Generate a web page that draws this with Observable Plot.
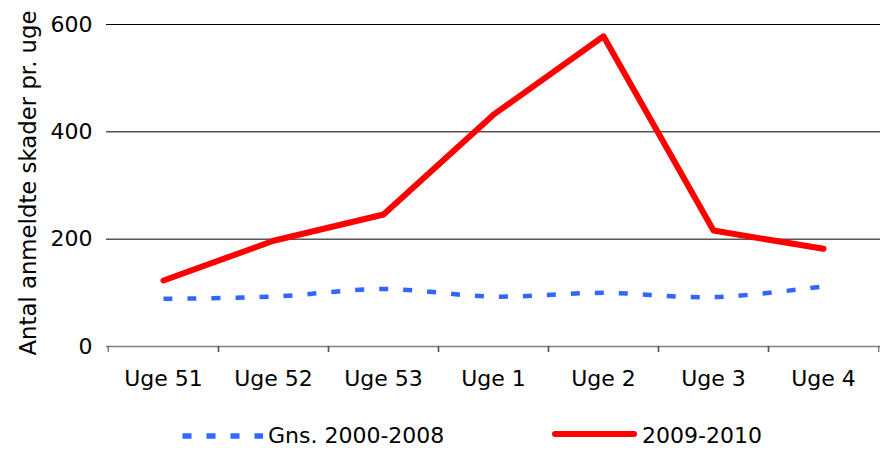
<!DOCTYPE html>
<html>
<head>
<meta charset="utf-8">
<script src="https://cdn.jsdelivr.net/npm/d3@7"></script>
<script src="https://cdn.jsdelivr.net/npm/@observablehq/plot@0.6"></script>
<style>
  html, body { margin: 0; padding: 0; background: #fff; }
  #chart svg { display: block; }
</style>
</head>
<body>
<div id="chart"></div>
<script>
const weeks = ["Uge 51", "Uge 52", "Uge 53", "Uge 1", "Uge 2", "Uge 3", "Uge 4"];
const avg2000_2008 = [89, 93, 107, 93, 100, 92, 112];
const season2009_2010 = [123, 197, 246, 432, 578, 216, 182];
const yTicks = [0, 200, 400, 600];
const gridValues = [200, 400, 600];
const seriesNames = ["Gns. 2000-2008", "2009-2010"];
const yLabel = "Antal anmeldte skader pr. uge";

const W = 885, H = 408;
const mL = 106, mR = 5, mT = 24, mB = 62;
const bw = (W - mL - mR) / weeks.length;
const font = "DejaVu Sans";

const avgData = weeks.map((w, i) => ({week: w, value: avg2000_2008[i]}));
const seasonData = weeks.map((w, i) => ({week: w, value: season2009_2010[i]}));

const chart = Plot.plot({
  width: W, height: H,
  marginLeft: mL, marginRight: mR, marginTop: mT, marginBottom: mB,
  style: {fontFamily: font, fontSize: "22px", color: "#000", background: "#fff"},
  x: {type: "band", domain: weeks, padding: 0},
  y: {domain: [0, 600]},
  marks: [
    Plot.ruleY(gridValues, {stroke: "#000", strokeWidth: 1}),
    Plot.ruleY([0], {stroke: "#808080", strokeWidth: 1.5}),
    Plot.axisY({ticks: yTicks, tickSize: 0, tickPadding: 14, label: null, fontSize: 22, fill: "#000"}),
    Plot.axisX({tickSize: 0, tickPadding: 24, label: null, fontSize: 22, fill: "#000"}),
    Plot.axisX({tickSize: 6, dx: -bw / 2, tickFormat: () => "", label: null, stroke: "#444"}),
    Plot.axisX({tickSize: 6, dx: bw / 2, tickFormat: () => "", label: null, stroke: "#444"}),
    Plot.line(avgData, {x: "week", y: "value", curve: "catmull-rom", stroke: "#3366FF",
      strokeWidth: 4.5, strokeDasharray: "9,15", strokeLinecap: "butt"}),
    Plot.line(seasonData, {x: "week", y: "value", stroke: "#FF0000",
      strokeWidth: 6, strokeLinecap: "round", strokeLinejoin: "round"}),
    Plot.text([yLabel], {frameAnchor: "left", rotate: -90, textAnchor: "middle",
      dx: -77.5, dy: -2.5, fontSize: 22.8, fill: "#000", fontFamily: font})
  ]
});
document.getElementById("chart").appendChild(chart);

// Legend below the plot
const LH = 449 - H;
const legend = d3.select("#chart").append("svg")
  .attr("width", W).attr("height", LH)
  .style("display", "block")
  .style("font-family", font).style("font-size", "22px");
legend.append("line")
  .attr("x1", 182.5).attr("x2", 263).attr("y1", 436 - H).attr("y2", 436 - H)
  .attr("stroke", "#3366FF").attr("stroke-width", 5.5)
  .attr("stroke-dasharray", "9,15");
legend.append("text").attr("x", 268).attr("y", 443 - H).attr("fill", "#000").text(seriesNames[0]);
legend.append("line")
  .attr("x1", 555).attr("x2", 634).attr("y1", 434 - H).attr("y2", 434 - H)
  .attr("stroke", "#FF0000").attr("stroke-width", 6)
  .attr("stroke-linecap", "round");
legend.append("text").attr("x", 642).attr("y", 443 - H).attr("fill", "#000").text(seriesNames[1]);
</script>
</body>
</html>
